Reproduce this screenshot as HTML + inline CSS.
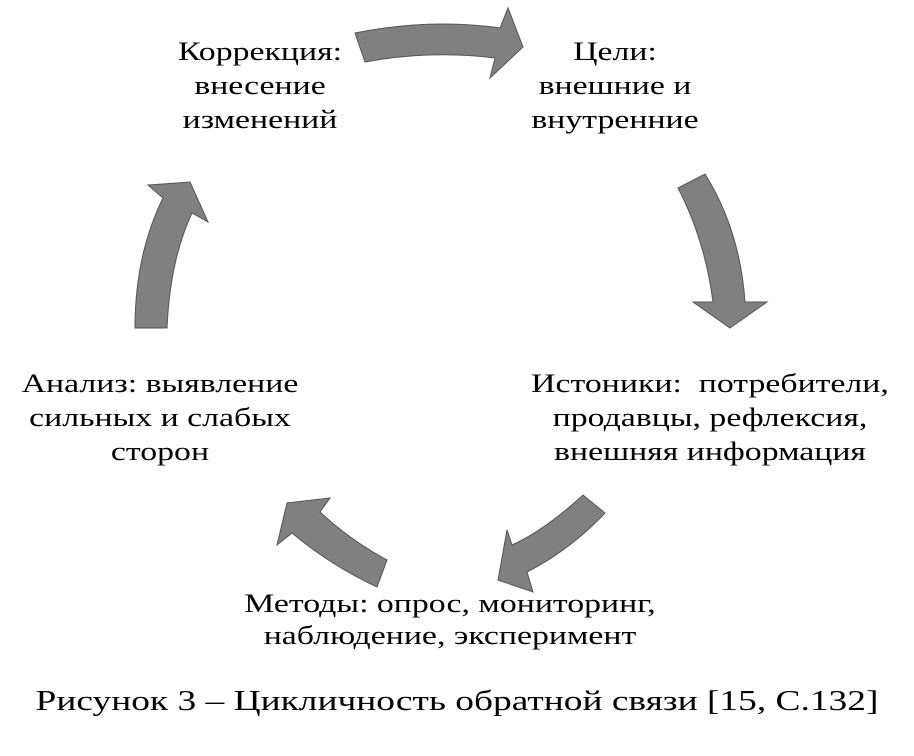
<!DOCTYPE html>
<html><head><meta charset="utf-8"><style>
body{margin:0;background:#fff;width:914px;height:756px;overflow:hidden;position:relative;font-family:"Liberation Serif","DejaVu Serif",serif;color:#000}
.t{position:absolute;font-size:26px;line-height:34px;text-align:center;white-space:nowrap;transform:scaleX(1.3);transform-origin:center top}
svg{position:absolute;left:0;top:0}
</style></head><body>
<svg width="914" height="756">
<g fill="#808080" stroke="#555" stroke-width="1">
<path d="M355,33 Q430,18 500,28 L508,8 L523,47 L490,78 L495,58 Q430,50 365,62 Z"/>
<path d="M678,188 L705,174 Q740,230 745,302 L767,302 L730,328 L693,302 L713,302 Q705,240 678,188 Z"/>
<path d="M605,513 L583,495 Q545,530 512,545 L507,530 L498,580 L533,592 L527,572 Q570,550 605,513 Z"/>
<path d="M387,560 L377,587 Q330,565 292,533 L277,545 L287,503 L330,498 L320,512 Q350,540 387,560 Z"/>
<path d="M135,328 L167,328 Q170,260 192,213 L208,222 L190,182 L148,185 L163,198 Q135,255 135,328 Z"/>
</g>
</svg>
<div class="t" style="left:170px;top:35px;width:180px">Коррекция:<br>внесение<br>изменений</div>
<div class="t" style="left:520px;top:35px;width:190px">Цели:<br>внешние и<br>внутренние</div>
<div class="t" style="left:530px;top:367px;width:360px">Истоники:&nbsp; потребители,<br>продавцы, рефлексия,<br>внешняя информация</div>
<div class="t" style="left:10px;top:367px;width:300px">Анализ: выявление<br>сильных и слабых<br>сторон</div>
<div class="t" style="left:200px;top:588px;width:500px;line-height:32px">Методы: опрос, мониторинг,<br>наблюдение, эксперимент</div>
<div class="t" style="left:0;top:684px;width:914px;font-size:29px;line-height:34px;transform:scaleX(1.29)">Рисунок 3 – Цикличность обратной связи [15, С.132]</div>
</body></html>
